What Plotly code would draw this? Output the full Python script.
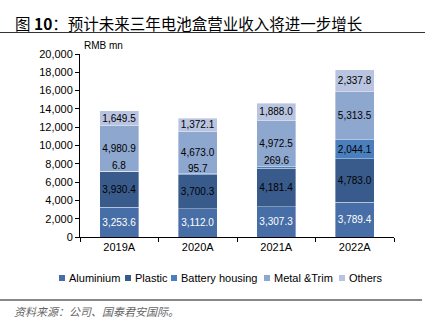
import plotly.graph_objects as go

years = ["2019A", "2020A", "2021A", "2022A"]
aluminium = [3253.6, 3112.0, 3307.3, 3789.4]
plastic = [3930.4, 3700.3, 4181.4, 4783.0]
battery = [6.8, 95.7, 269.6, 2044.1]
metal = [4980.9, 4673.0, 4972.5, 5313.5]
others = [1649.5, 1372.1, 1888.0, 2337.8]
series_names = ["Aluminium", "Plastic", "Battery housing", "Metal &Trim", "Others"]

colors = ["#476ea6", "#395b8c", "#4a7fbe", "#8ea7cf", "#b9c5e0"]
text_colors = ["white", "black", "black", "black", "black"]
values = [aluminium, plastic, battery, metal, others]

FONT = "Liberation Sans, Arial, sans-serif"
CJK = "Noto Sans CJK SC, sans-serif"

# plot area in pixels
L, R, T, B = 80, 34, 54, 85
W, H = 428, 322
PW, PH = W - L - R, H - T - B

def px(x):
    return (x - L) / PW

def py(y):
    return (H - B - y) / PH

fig = go.Figure()
for name, vals, color, tcolor in zip(series_names, values, colors, text_colors):
    texts = [f"{v:,.1f}" if v >= 1000 else "" for v in vals]
    fig.add_trace(go.Bar(
        x=years, y=vals, name=name,
        marker=dict(color=color, line=dict(color="rgba(255,255,255,0.6)", width=0.6)),
        text=texts, textposition="inside", insidetextanchor="middle",
        textangle=0, constraintext="none",
        textfont=dict(size=10, color=tcolor, family=FONT),
        hoverinfo="skip", showlegend=False,
    ))

annotations = []
for i, y in enumerate(years):
    if battery[i] < 1000:
        top = aluminium[i] + plastic[i] + battery[i]
        annotations.append(dict(x=y, y=top, xref="x", yref="y", text=f"{battery[i]:,.1f}",
                                showarrow=False, yanchor="bottom", yshift=-2,
                                font=dict(size=10, color="black", family=FONT)))

annotations += [
    dict(x=px(13), y=py(23), xref="paper", yref="paper", xanchor="left", yanchor="middle",
         text="图 <b>10</b>：预计未来三年电池盒营业收入将进一步增长", showarrow=False,
         font=dict(size=15.5, color="black", family=CJK)),
    dict(x=px(82), y=py(53), xref="paper", yref="paper", xanchor="left", yanchor="bottom",
         text="RMB mn", showarrow=False, font=dict(size=10, color="black", family=FONT)),
    dict(x=px(12), y=py(311), xref="paper", yref="paper", xanchor="left", yanchor="middle",
         text="<i>资料来源：公司、国泰君安国际。</i>", showarrow=False,
         font=dict(size=11, color="#666666", family=CJK)),
]

shapes = [
    dict(type="line", xref="paper", yref="paper", x0=px(0), x1=px(425), y0=py(32.5), y1=py(32.5),
         line=dict(color="#333333", width=1)),
    dict(type="line", xref="paper", yref="paper", x0=px(0), x1=px(422), y0=py(300), y1=py(300),
         line=dict(color="#888888", width=2)),
]

# custom legend (swatch + label)
legend_text_x = [68, 134, 180, 273, 348]
legend_y = 278
for name, color, tx in zip(series_names, colors, legend_text_x):
    shapes.append(dict(type="rect", xref="paper", yref="paper",
                       x0=px(tx - 9), x1=px(tx - 3), y0=py(legend_y + 3), y1=py(legend_y - 3),
                       fillcolor=color, line=dict(width=0)))
    annotations.append(dict(x=px(tx - 1), y=py(legend_y), xref="paper", yref="paper",
                            xanchor="left", yanchor="middle", text=name, showarrow=False,
                            font=dict(size=11, color="black", family=FONT)))

fig.update_layout(
    width=W, height=H,
    margin=dict(l=L, r=R, t=T, b=B),
    barmode="stack", bargap=0.5,
    plot_bgcolor="white", paper_bgcolor="white",
    font=dict(family=FONT, size=11, color="black"),
    showlegend=False,
    annotations=annotations, shapes=shapes,
)
fig.update_xaxes(showline=True, linecolor="black", linewidth=1, ticks="outside",
                 tickson="boundaries", ticklen=4, tickcolor="black",
                 tickfont=dict(size=11, family=FONT), showgrid=False)
fig.update_yaxes(range=[0, 20000], dtick=2000, tickformat=",", showline=True,
                 linecolor="black", linewidth=1, ticks="outside", ticklen=4,
                 tickcolor="black", showgrid=False, zeroline=False,
                 tickfont=dict(size=11, family=FONT))

fig.write_html("out.html")
